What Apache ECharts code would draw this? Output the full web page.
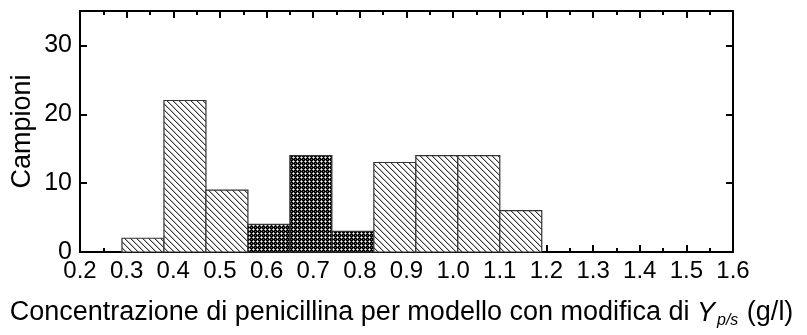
<!DOCTYPE html>
<html>
<head>
<meta charset="utf-8">
<script src="https://cdn.jsdelivr.net/npm/echarts@6/dist/echarts.min.js"></script>
<style>
  html, body { margin: 0; padding: 0; background: #fff; }
  #chart { width: 807px; height: 335px; }
</style>
</head>
<body>
<div id="chart"></div>
<script>
// Histogram bins (g/l): lower edge, upper edge and sample count
const binStart = [0.29, 0.38, 0.47, 0.56, 0.65, 0.74, 0.83, 0.92, 1.01, 1.10];
const binEnd   = [0.38, 0.47, 0.56, 0.65, 0.74, 0.83, 0.92, 1.01, 1.10, 1.19];
const counts   = [2, 22, 9, 4, 14, 3, 13, 14, 14, 6];
// Concentration range drawn with the dense cross pattern
const denseRange = [0.56, 0.83];

const xTickLabels = ['0.2', '0.3', '0.4', '0.5', '0.6', '0.7', '0.8', '0.9', '1.0', '1.1', '1.2', '1.3', '1.4', '1.5', '1.6'];
const yTickLabels = ['0', '10', '20', '30'];

// Diagonal "\" hatch tile
function hatchTile() {
  const c = document.createElement('canvas');
  c.width = 6; c.height = 6;
  const g = c.getContext('2d');
  g.fillStyle = '#fff';
  g.fillRect(0, 0, 6, 6);
  for (let i = 0; i < 6; i++) {
    g.fillStyle = '#3a3a3a';
    g.fillRect(i, i, 1, 1);
    g.fillStyle = '#b8b8b8';
    g.fillRect((i + 1) % 6, i, 1, 1);
  }
  return c;
}

// Dark cross-mesh tile: black ground with small light crosses
function meshTile() {
  const c = document.createElement('canvas');
  c.width = 4; c.height = 4;
  const g = c.getContext('2d');
  g.fillStyle = '#000';
  g.fillRect(0, 0, 4, 4);
  g.fillStyle = '#a8a8a8';
  g.fillRect(0, 1, 3, 1);
  g.fillRect(1, 0, 1, 3);
  g.fillStyle = '#fff';
  g.fillRect(1, 1, 1, 1);
  g.fillStyle = '#666';
  g.fillRect(3, 3, 1, 1);
  return c;
}

const hatchFill = { image: hatchTile(), repeat: 'repeat' };
const meshFill = { image: meshTile(), repeat: 'repeat' };

const histData = binStart.map((s, i) => [s, binEnd[i], counts[i]]);

const font = 'Liberation Sans, Arial, sans-serif';
const chart = echarts.init(document.getElementById('chart'), null, { renderer: 'canvas' });

const frameLine = { show: true, onZero: false, lineStyle: { color: '#000', width: 2 } };

chart.setOption({
  animation: false,
  backgroundColor: '#fff',
  grid: { left: 80, right: 74, top: 11, bottom: 83, containLabel: false },
  xAxis: [
    {
      type: 'value', min: 0.2, max: 1.6, interval: 0.1, position: 'bottom',
      axisLine: frameLine,
      axisTick: { show: true, inside: true, length: 7, lineStyle: { color: '#000', width: 2 } },
      minorTick: { show: true, splitNumber: 2, length: 4, lineStyle: { color: '#000', width: 2 } },
      splitLine: { show: false },
      axisLabel: {
        margin: 7, color: '#000', fontFamily: font, fontSize: 24,
        formatter: (v) => xTickLabels[Math.round((v - 0.2) * 10)] || ''
      },
      name: 'Concentrazione di penicillina per modello con modifica di {i|Y}{sub|p/s} (g/l)',
      nameLocation: 'middle', nameGap: 45,
      nameTextStyle: {
        color: '#000', fontFamily: font, fontSize: 27, padding: [0, 10, 0, 0],
        rich: {
          i: { fontFamily: font, fontSize: 27, fontStyle: 'italic', color: '#000' },
          sub: { fontFamily: font, fontSize: 16, fontStyle: 'italic', color: '#000', padding: [16, 1, 0, 2] }
        }
      }
    },
    {
      type: 'value', min: 0.2, max: 1.6, interval: 0.1, position: 'top',
      axisLine: frameLine,
      axisTick: { show: true, inside: true, length: 7, lineStyle: { color: '#000', width: 2 } },
      minorTick: { show: true, splitNumber: 2, length: 4, lineStyle: { color: '#000', width: 2 } },
      splitLine: { show: false },
      axisLabel: { show: false }
    }
  ],
  yAxis: [
    {
      type: 'value', min: 0, max: 35, interval: 10, position: 'left',
      axisLine: frameLine,
      axisTick: { show: true, inside: true, length: 7, lineStyle: { color: '#000', width: 2 } },
      splitLine: { show: false },
      axisLabel: {
        margin: 8, color: '#000', fontFamily: font, fontSize: 25,
        formatter: (v) => v % 10 === 0 && yTickLabels[v / 10] !== undefined ? yTickLabels[v / 10] : ''
      },
      name: 'Campioni', nameLocation: 'middle', nameGap: 44, nameMoveOverlap: false,
      nameTextStyle: { color: '#000', fontFamily: font, fontSize: 27 }
    },
    {
      type: 'value', min: 0, max: 35, interval: 10, position: 'right',
      axisLine: frameLine,
      axisTick: { show: true, inside: true, length: 7, lineStyle: { color: '#000', width: 2 } },
      splitLine: { show: false },
      axisLabel: { show: false }
    }
  ],
  series: [{
    type: 'custom',
    xAxisIndex: 0, yAxisIndex: 0,
    data: histData,
    encode: { x: [0, 1], y: 2 },
    renderItem: function (params, api) {
      const x0 = api.value(0), x1 = api.value(1), n = api.value(2);
      const p0 = api.coord([x0, 0]);
      const p1 = api.coord([x1, n]);
      const dense = x0 >= denseRange[0] - 1e-9 && x1 <= denseRange[1] + 1e-9;
      return {
        type: 'rect',
        shape: { x: p0[0], y: p1[1], width: p1[0] - p0[0], height: p0[1] - p1[1] },
        style: { fill: dense ? meshFill : hatchFill, stroke: '#333', lineWidth: 1.2 }
      };
    },
    z: 1
  }]
});
</script>
</body>
</html>
